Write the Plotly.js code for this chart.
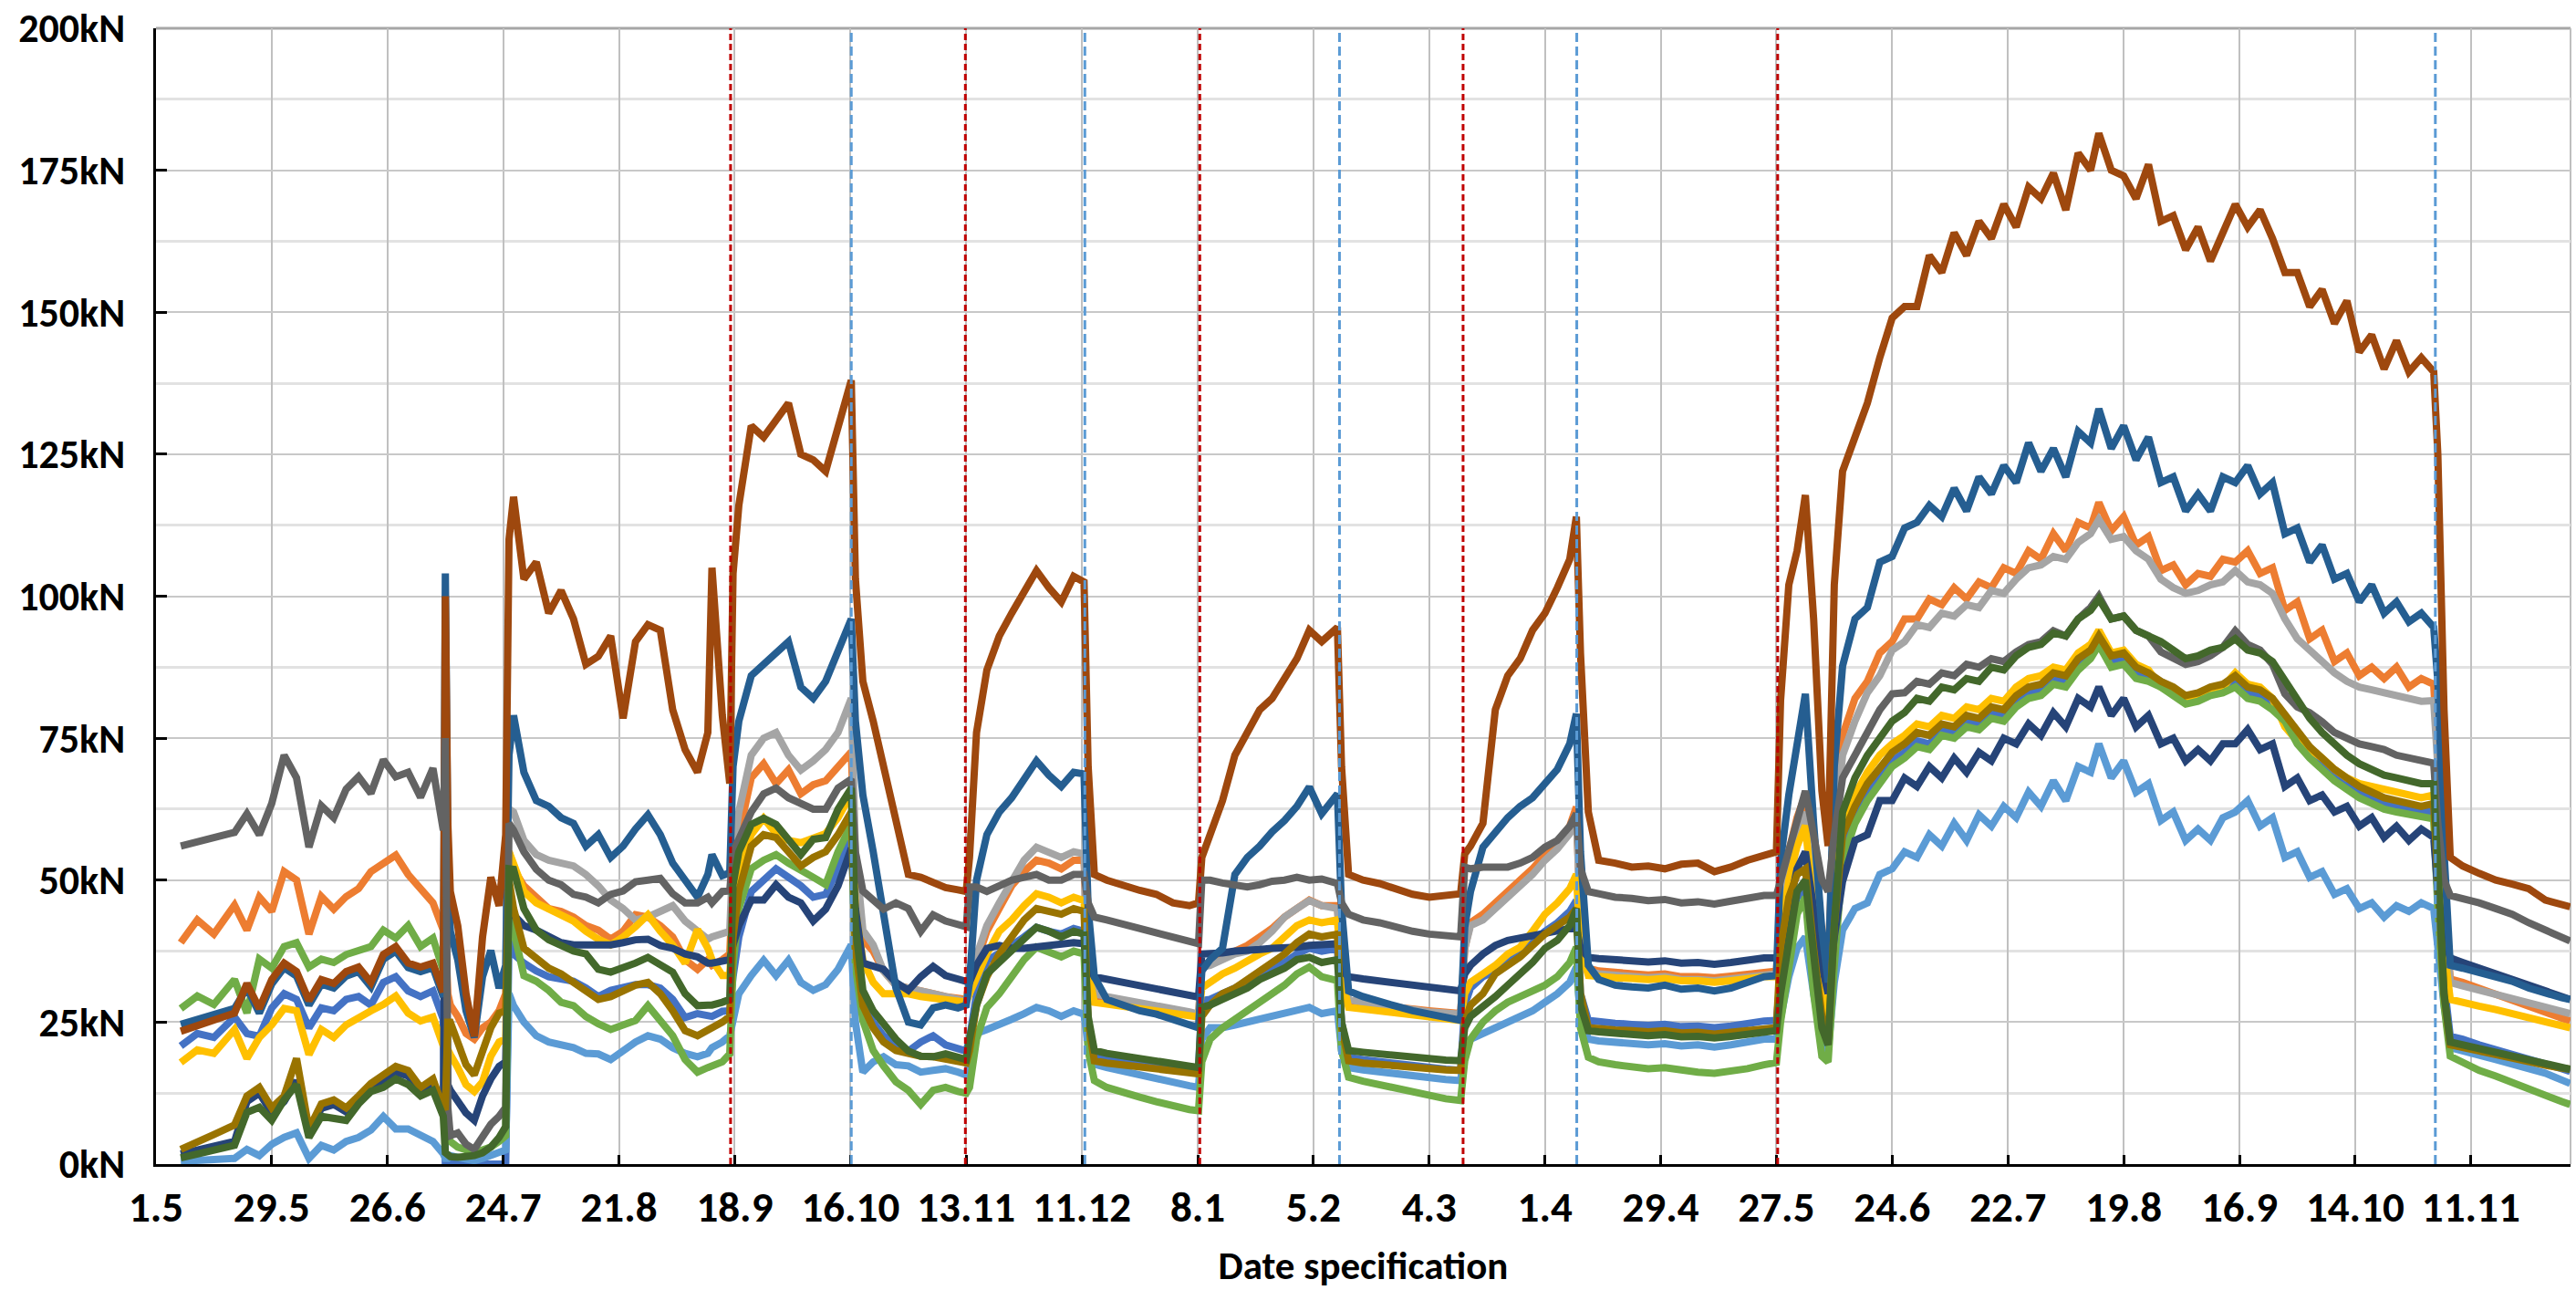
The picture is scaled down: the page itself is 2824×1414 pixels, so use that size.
<!DOCTYPE html>
<html>
<head>
<meta charset="utf-8">
<script src="https://cdn.plot.ly/plotly-3.0.1.min.js"></script>
<style>
html,body{margin:0;padding:0;background:#fff;}
#chart{width:2824px;height:1414px;}
</style>
</head>
<body>
<div id="chart"></div>
<script>
// Day offsets from 1 May 2019 (x values)
const days = [6,10,14,19,22,25,28,31,34,37,40,43,46,49,52,55,58,61,64,67,69.5,
70,70.6,
71.2,73,75,77,79,81,83,84.6,
85.4,86.5,89,92,95,98,101,104,107,110,113,116,119,122,125,128,131,133.5,134.5,137,138.8,
139.6,141,144,147,150,153,156,159,162,165,168.2,
169.2,171,173.5,176,179,182,185,188,191,194,196,
196.8,198.5,201,204,207,210,213,216,219,222,224.5,
225.5,227,230,234,238,242,246,250,252.2,
253,255,258,261,264,267,270,273,276,279,282,285.8,
286.8,288.5,292,296,300,304,308,312,315.6,
316.6,318,321,324,327,330,333,336,339,342,343.6,
344.6,346.5,349,353,357,361,365,369,373,377,381,385,389,392,
393,395,397,399,401,403,404.5,406,408,411,414,417,420,423,426,429,432,435,438,441,444,447,450,453,456,459,462,465,468,470,473,476,479,482,485,488,491,494,497,500,503,506,509,512,515,518,521,524,527,530,533,536,539,542,545,548,551,
552,553.5,555,558,562,566,570,574,578,582,584];

// Tick positions (days) and labels
const tickDays = [0,28,56,84,112,140,168,196,224,252,280,308,336,364,392,420,448,476,504,532,560];
const tickLabels = ["1.5","29.5","26.6","24.7","21.8","18.9","16.10","13.11","11.12","8.1","5.2","4.3","1.4","29.4","27.5","24.6","22.7","19.8","16.9","14.10","11.11"];

// Event markers (days)
const redEvents = [139, 195.8, 252.5, 316.2, 392.3];
const blueEvents = [168.2, 224.7, 286.3, 343.7, 551.4];

const sBlue = [20.8,23,22.3,25.9,23,22.5,27.5,30,29,24,27.5,27,29,29.5,28,32,33,30.5,29.5,30.5,25.5,
0,0,
0,0,0,0,0,0,0,0,
40,37,35.4,34,33,32.5,32.2,31,29.5,30.6,31,31.6,31.6,31,29,25.8,26.5,26,26,26.9,27,
33,40,48,50,52,50.5,49,47,47.5,52,58,
38,27.9,25,22.6,21,19.9,21.5,22.6,21,20.3,19.9,
22,30,35.8,37,38.5,40,41.7,41,40.5,41.5,41,
24,19.4,19,18.5,18.2,17.8,17.4,17.1,17,
28.8,29,30,31,32,33.5,34.5,35.5,37,38,37.5,38,
25,18.8,18.4,18,17.6,17.3,17,16.7,16.5,
28,31,33,34,35.5,37,39,41,42.5,44.5,46.4,
30,25.3,25,24.8,24.6,24.4,24.6,24.2,24.3,24,24.3,24.8,25.2,25.3,
33,42,47,48,35,24,22,38,56,61,65,68,71,72.5,74.5,74,76.5,76,78,77.5,79.5,79,81.5,83,83.5,85.5,85,88,90,92,88.5,89,86.5,86,85,83.5,82,82.5,83.5,84,85,83,82.5,81,78.5,75,72.5,70.5,68.5,67,65.5,64.5,63.5,63,62.5,62,62,
48,32,22.5,22,21,20.2,19.5,18.6,17.8,16.8,16.3];

const sOrange = [39,43,40.5,45.6,41.2,47,44.5,51.5,50,40.5,47.1,44.9,47.1,48.5,51.5,52.9,54.4,51,48.5,46,41.2,
41,30,
28,26,23,22,24,25,27,30,
55,52,49,47,45,44.5,43.5,42,41.2,39.6,41,43.9,43.5,42,40,36,34.3,36,35,36,37,
50,58,68,70.5,67,69.4,65.2,66.8,67.5,70,72.6,
52,39.6,37.5,34,31.5,31.1,30.5,30,29.5,29.2,29,
32,36,41,45,49,51.5,53.5,53,52,53.5,53.5,
37,29.5,29,28.5,28,27.5,27,26.5,26,
35,35.5,36.5,37.5,38.5,40,41.5,43.5,45,46.5,45.5,45.5,
34,28.5,28.2,28,27.7,27.3,27,26.8,26.5,
38,42.5,44,46,48,50,52,54.5,56.5,59.5,62.9,
42,34.5,34,33.7,33.5,33.3,33.5,33,33,32.8,33.1,33.5,34,34,
45,55,61,65,53,40,36,61,75.5,82,85,90,92,96,96,99.5,98.5,101.5,99.5,102.5,101.5,105,104,108,106.5,111,108,113,112,116.5,111.5,114,109,110.5,104.5,105.5,102,104,103.5,106.5,106,108,104,105,97.5,99,92.5,94,88.5,90,86,87.5,85.5,87.5,84,85.5,84.5,
72,47,32.6,32,31,30,29,28,27,25.8,25.2];

const sLightGray = [null,null,null,null,null,null,null,null,null,null,null,null,null,null,null,null,null,null,null,null,null,
null,null,
null,null,null,null,null,null,null,null,
62.5,62,57,54.5,53.5,52.9,52.5,51,49,46.5,45,43,43.5,44.5,45.5,42.8,41,39.6,40,40.5,41,
55,62,72,75,76,72,69.4,71,73,76,82,
55,41.2,38.6,34,31.5,31,30.6,30,29.5,29,28.5,
33,37,42,46,50,53.5,55.8,55,54,55,54.6,
38,30,29.5,29,28.3,27.8,27.2,26.8,26.4,
34.7,35,36,37,37.5,39,41,43.5,45,46.4,45.5,45,
35,29,28.5,28,27.6,27.2,26.8,26.6,26.4,
38,42,43,45,47,49,51,53.5,55.5,58.2,61.7,
42,34,33.5,33.2,33,32.8,33,32.5,32.5,32.3,32.6,33,33.4,33.5,
42,52,58,62,50,38,35,58,72,78,83,86,90.5,92,95,94.5,97,96.5,98.5,98,101,100.5,103,105,105.5,107,106.5,109.5,111,113.5,110,110.5,108,106.5,103,101.5,100.5,101,102,102.5,104.5,102.5,102,100.5,96,92.5,90.5,88.5,86.5,85,84,83.5,83,82.5,82,81.5,81.6,
70,45,32,31.4,30.6,30,29.2,28.3,27.5,26.8,26.5];

const sGold = [17.9,20.1,19.5,23.7,18.6,22.3,24.5,27.4,27,19.3,23.7,22.3,24.5,25.9,27,28.1,29.6,26.6,25.2,25.9,20.8,
21,20,
19.3,17,14,12.8,14.5,19,21.5,22,
55,52.9,48,46,44.9,44,42.8,41,39.6,38.6,40,41.8,43.9,41,38.6,35.4,41.3,38,36,33.2,33.2,
45,52,58,60.9,58.2,57,56.6,57.5,58.2,61,65.2,
45,35.9,32,30,30,30,29.5,29.2,29,28.8,28.5,
30,33,37,41,43,45.5,47.6,47,46,47,46.4,
34,28.5,28.2,27.8,27.3,26.8,26.4,26,25.9,
31,32,33.5,34.5,35.8,37,38,40,42,43,42.5,43,
33,27.6,27.3,27,26.6,26.2,25.8,25.5,25.3,
30,32,33.5,35,37,38.2,41,44,46,48.5,51,
38,33.2,33,32.8,32.7,32.5,32.7,32.3,32.3,32,32.3,32.7,33,33,
40,50,56,59.6,45,30,24,48,60,65,69,72,74,75.5,77.5,77,79,78.5,80.5,80,82,81.5,84,85.5,86,87.5,87,90,91.5,94,90,90.5,88,87,84,83,81.5,82,83,84,86.5,84.5,84,82,77,74.5,73,71.5,69.5,68,67,66.5,66,65.5,65,64.5,65,
55,38,29,28.4,27.8,27.2,26.5,25.8,25,24.3,24];

const sLightBlue = [0.5,0.5,0.8,1,2.6,1.5,3.5,4.7,5.5,1,3.3,2.5,4,4.7,6,8.4,6.2,6.2,5,4,1.8,
1,1,
1.5,1.2,1,0.6,1,1.5,2,2.5,
30,27.9,25,22.6,21.5,21,20.5,19.5,19.4,18.4,20,21.5,22.6,22,20.5,19.5,18.9,19.5,20.5,21.5,22.6,
25,30,33.2,35.9,33.2,35.9,32,30.6,31.6,34.3,38.6,
25,16.2,18,18.9,17.5,17.3,16.2,16.5,16.8,16.2,15.7,
18,23,23.7,24.5,25.5,26.5,27.6,27,26,27,26.4,
21,17.6,17,16.3,15.6,15,14.4,13.8,13.5,
22,24,24,24.5,25,25.5,26,26.5,27,27.6,26.5,27,
20,17,16.6,16.2,15.8,15.4,15.1,14.9,14.7,
20,22,23,24,25,26,27,28.5,30,32,34.7,
26,22,21.7,21.5,21.3,21,21.2,20.8,21,20.6,21,21.5,22,22,
26,33,38,40,30,22,20,32,41.2,45,46,51,52,55,54,58,56,60,57,61.5,59.5,63,61,65.5,63,67.5,64,70,69,74,68,71,65.5,67,60.5,62,57,59,57,61,62,64,59.5,61,54,55,50.5,51.5,47.5,48.5,45,46,43.5,45.5,44.5,46,45,
38,28,20.5,20,19.2,18.4,17.6,16.8,16,14.8,14.2];

const sGreen = [27.4,29.6,28.1,32.5,26.6,36.1,34.5,38.3,39,34.7,36.1,35.5,36.9,37.6,38.3,41.2,39.8,42,38.3,39.8,33.9,
33,5,
4,3,2.5,2,2.5,3,4,5,
48,41.2,33.2,32.2,30.6,28.5,27.9,26,24.7,23.7,24.5,25.3,27.9,25,22.6,18.4,16.2,17,17.3,18,19.4,
35,45,52,53.5,54.5,53,51.9,50.5,49.2,55,59.8,
35,25.3,20,17.3,14.5,13,10.5,13,13.5,12.8,12.5,
13.5,22,27.6,30,33,36,38.2,37.5,36.5,37.5,37,
20,14.7,13.5,12.5,11.8,11,10.2,9.6,9.4,
18,22,24,25.5,27,28.5,30,31.5,33.5,34.7,33,32.3,
20,15.3,14.6,14,13.3,12.7,12,11.5,11.2,
18.2,22,25,27,28.5,29.5,30.5,31.5,33,35.5,38.2,
24,18.8,18,17.5,17.2,16.8,17,16.5,16.2,16,16.3,16.8,17.5,17.9,
25,35,44,47,30,19,18,35,53.4,60,64,67,70,71.5,73.5,73,75.5,75,77,76.5,78.5,78,80.5,82,82.5,84.5,84,87,89,91.4,87.5,88,85.5,85,84,82.5,81,81.5,82.5,83,84,82,81.5,80,78,74,71.5,69.5,67.5,66,64.5,63.5,62.5,62,61.5,61,60.8,
45,28,19,17.8,16.5,15.5,14.3,13.2,12,11,10.5];

const sNavy = [1.8,2.5,3.2,4,11,12.5,9,11,14.7,5.5,9.8,10.5,9.2,11.3,13.2,14.7,16.2,15.5,12.8,14,9,
60,14,
13,11,9,7.7,12,15,17.2,18,
48,43.9,42,41.2,40,39,38.6,38.5,38.6,38.6,39,39.5,39.6,38.5,38,37,36.5,35.4,35.4,35.9,36,
38.6,42,46.5,46.5,49.2,47,46,42.8,44.9,49,55.6,
45,35.4,34.8,34.3,32,30.6,33,34.8,33.2,32.7,32.2,
32,35,38,38.5,38,38,38.2,38.5,38.5,39,38.8,
35,33,32.6,32,31.5,31,30.5,29.8,29.4,
37,37,37.2,37.5,37.5,37.8,38,38,38.2,38.5,38.5,38.8,
34,33,32.6,32.2,31.8,31.4,31,30.7,30.5,
33.5,35,37,38.5,39.4,39.8,40,40.5,41,41.5,41.7,
38,36.4,36.2,36,35.8,35.6,35.8,35.4,35.5,35.2,35.5,36,36.3,36.3,
36,45,52,55,45,35,30,40,49.8,57,58,64,64,68,66.5,70,68,71.5,69,72.5,71,75,74,77.5,75.5,79.5,77,82,80.5,84,79,82,77,79,74,75,71,73,71,74,74,76.5,73,74,66.5,68,64,65,62,63,59.5,61,57.5,59.5,57,59,57.5,
48,40,36.3,35.5,34.5,33.5,32.5,31.5,30.5,29.5,29];

const sSteelBlue = [24.6,25.5,26.4,27.4,31,26.6,31.7,34.6,33.1,28,31.7,31,33.1,33.9,31.2,36.1,37.5,34.6,33.9,34.6,29.5,
104,55,
41,36,27,22.3,33,37.6,31,35,
72,79,69,64,63,61,60,56,58,54,56,59,61.5,58,53,50,47,51,54.5,50.8,51.3,
70,78,86,88,90,92,84,82,85,90,96,
78,65,55,44,31,25,24.5,27.5,28,27.5,28,
32,50,58,62,64.5,67.5,71,68.5,66.5,69,68.7,
45,33,29,28,27,26.4,25.5,24.5,24,
34,36,38,51,54,56,58.5,60.5,63,66.4,61.7,65.2,
45,30.5,29.5,28.5,27.8,27,26.3,25.8,25.3,
41.7,48,55.8,58.5,61,63,64.5,67,69.5,74,79.3,
55,35,32.5,31.5,31.2,31,31.5,30.8,31,30.5,31,32,33,33.2,
53.4,65,75,82.8,60,41.2,32,70,87.7,96,98,106,107,112,113,116,114,119,115,121,118,123,120,127,122,126,121,129,127,133,126,130,124,128,120,121,115,118,115,121,120,123,118,120,111,112,106,109,103,104,99,102,97,99,95.5,97,94.5,
85,55,35,34.5,33.8,33,32.2,31,30,29.3,29];

const sBrown = [23.4,24.3,25.3,26.6,31.8,27.4,32.5,35.4,33.9,28.8,32.5,31.8,33.9,34.7,32,36.9,38.3,35.4,34.7,35.4,30.3,
100,60,
48,42,30,22.5,40,50.5,45.5,58,
110,117.5,103,106,97,101,96,88,89.4,93,78.5,92,95,94,80,73,69,76,105,79,67,
104,116,130,128,131,134,125,124,122,130,138,
103,85,78,70,60,51,50.5,49.5,48.7,48.3,48,
54,76,87,93,97,101,104.5,101.5,99,103.5,102.5,
70,51,50,49,48.2,47.5,46,45.5,46,
54,58,64,72,76,80,82,85.5,89,94,92,94.5,
70,51,50,49.4,48.5,47.5,47,47.3,47.6,
54.6,56,60,80,86,89,94,97,101.5,106.5,114,
90,62,53.5,53,52.3,52.5,52,52.8,53,51.5,52.3,53.5,54.5,55,
81.6,102,108,117.8,96,65.7,56,102,122,128,134,142,149,151,151,160,157,164,160,166,163,169,165,172,170,174.5,168,178,175,181.5,175,174,170,176,166,167,161,165,159,164,169,165,168,163,157,157,151,154,148,152,143,146,140,145,139.5,142,139.5,
125,80,54,52.5,51.2,50,49.3,48.5,46.5,45.5,45.3];

const sDarkGray = [56,56.7,57.5,58.4,61.7,58,63.5,72,68,55.8,63.1,61,66,68.2,65.3,71.2,68.2,69,64.6,69.7,58.8,
75,10,
5,5.5,3.5,2.6,5,7,8.4,10,
60,58.8,55,51.9,50,49.2,47.5,47,46,47.5,48.1,49.7,50,50.3,47.6,46,46,47,46,48,48.1,
55,57.2,62,65.2,66.2,64.5,63.6,62.5,62.5,66.2,67.8,
55,48.1,46.5,44.9,46,45,41,43.9,42.8,42.2,41.8,
48.8,48.8,48,49,50,50.5,51,50,50,51,51,
46,43.5,43,42.2,41.7,40.8,40,39.2,38.8,
50,50,49.5,49,48.8,49.2,49.8,50,50.5,50,50.2,49.4,
46,44,43,42.5,41.7,41,40.5,40.2,40,
52.3,52,52.3,52.3,52.3,53,54,55.8,57,59.5,61.7,
52,48,47.6,47,46.8,46.4,46.6,46,46.2,45.8,46.3,46.8,47.3,47.3,
50,55,60,65.7,58,50,48,58,68,72,76,80,82.8,83,85,84.5,86.5,86,88,87.5,89,88.5,90.2,91.5,92,93.9,93,96,98,100,96,96.5,94,93,90.2,89,88,88.5,89.5,91,93.9,91.5,90.5,88,82.8,80.5,79.5,77.9,76,75,74,73.5,73,72,71.5,71,70.6,
60,50,47.3,46.8,46,45,44,42.5,41.2,39.8,39.3];

const sDarkGold = [2.6,3.8,5.2,6.9,12,13.5,9.9,12,18.6,6.2,10.6,11.3,9.9,12,14.2,15.7,17.2,16.5,13.5,15,9.9,
10,25,
25,21,17.5,15.7,20,24,26.6,27,
50,45,38,36.4,34.5,33.5,32,30.5,29,29.5,30.5,31.5,32,30,27,23.5,22.6,23.5,24,25,26,
40,48,56,58,57.5,55,52.5,54,55,58,62,
38,27.9,24,21.5,20,19.4,19,18.9,18.5,18,17.8,
20,28,33,37,40,43,45,44.5,44,45,44.5,
25,18.2,17.8,17.4,17,16.7,16.4,16.1,15.9,
26,28,30,31,32.5,34,35.5,37,39,40.5,40,40.5,
24,18.2,17.8,17.5,17.2,17,16.8,16.6,16.5,
25,28,30,33.5,35,36.5,38.5,40.5,42,43.5,45,
30,24,23.8,23.6,23.5,23.3,23.5,23.1,23.2,22.9,23.2,23.6,24,24,
38,47,51,52,38,26,22,42,58,63,67,70,72.5,74,76,75.5,77.5,77,79,78.5,80.5,80,82.5,84,84.5,86.5,86,89,90.5,93,89.5,90,87.5,86.5,85,84,82.5,83,84,84.5,86,84,83.5,82,79,76,73.5,71.5,69.5,68,66.5,65.5,64.5,64,63.5,63,63.5,
48,30,21,20.5,19.8,19.2,18.6,18,17.4,16.9,16.7];

const sDarkGreen = [1.1,1.8,2.5,3.3,9.1,10,7.7,11.3,14,4.7,8.4,8,7.7,10.6,12.8,13.5,15,14,12,13,8.4,
2,1.5,
1.3,1.2,1.3,1.5,2,3,4.7,6.6,
52,51.9,45,41.2,39.5,38.6,37.5,37,34.3,33.8,34.5,35.4,36.4,35,33.8,30,27.9,28,28,28.5,29,
49.2,55,59.8,60.9,59.8,57,54.5,57.2,57.5,62.5,66.2,
42,30.6,27,24.7,22,19.9,19,18.9,19.4,18.8,18.4,
22,28,33.5,35.5,37.5,39.5,41.7,41,40,41,40.5,
26,20,19.5,19,18.5,18,17.6,17.2,17,
27.6,28,29,30,31,32.5,33.5,34.5,36,36.4,35.5,36,
25,20,19.7,19.4,19,18.8,18.5,18.3,18.2,
24,26,27.6,29.5,31.5,33.5,35.5,38,39.4,42,45,
28,23.5,23.3,23,22.8,22.6,22.8,22.4,22.5,22.2,22.5,22.9,23.2,23.5,
30,40,48,50,36,24,21,42,62,68,72,75,78,79.5,82,81.5,84,83.5,85.5,85,87.5,87,89.5,91,91.5,93.5,93,96,97.5,99.5,96,96.5,94,93,92,90.5,89,89.5,90.5,91,92.5,90.5,90,88.5,85,81.5,78.5,76,74,72,70.5,69.5,68.5,68,67.5,67,67,
50,30,21.5,21,20.3,19.7,19,18.3,17.6,17,16.7];

const seriesList = [
  {name:"S1", y:sBlue, color:"#4472C4"},
  {name:"S2", y:sOrange, color:"#ED7D31"},
  {name:"S3", y:sLightGray, color:"#A5A5A5"},
  {name:"S4", y:sGold, color:"#FFC000"},
  {name:"S5", y:sLightBlue, color:"#5B9BD5"},
  {name:"S6", y:sGreen, color:"#70AD47"},
  {name:"S7", y:sNavy, color:"#264478"},
  {name:"S11", y:sSteelBlue, color:"#255E91"},
  {name:"S8", y:sBrown, color:"#9E480E"},
  {name:"S9", y:sDarkGray, color:"#636363"},
  {name:"S10", y:sDarkGold, color:"#997300"},
  {name:"S12", y:sDarkGreen, color:"#43682B"}
];

seriesList.forEach(s => {
  if (s.y.length !== days.length) {
    throw new Error("Length mismatch for " + s.name + ": " + s.y.length + " vs " + days.length);
  }
});

const traces = seriesList.map(s => ({
  type: "scatter",
  mode: "lines",
  x: days,
  y: s.y,
  name: s.name,
  line: {color: s.color, width: 8},
  connectgaps: false,
  hoverinfo: "skip"
}));

const shapes = [];
redEvents.forEach(d => shapes.push({
  type: "line", xref: "x", yref: "y", x0: d, x1: d, y0: 0, y1: 200,
  line: {color: "#C00000", width: 3, dash: "7px,4px"}, layer: "above"
}));
blueEvents.forEach(d => shapes.push({
  type: "line", xref: "x", yref: "y", x0: d, x1: d, y0: 0, y1: 200,
  line: {color: "#5B9BD5", width: 3, dash: "10px,5px"}, layer: "above"
}));
// top and right frame lines (gray)
shapes.push({type:"line", xref:"paper", yref:"paper", x0:0, x1:1, y0:1, y1:1, line:{color:"#a6a6a6", width:3}, layer:"below"});
shapes.push({type:"line", xref:"paper", yref:"paper", x0:1, x1:1, y0:0, y1:1, line:{color:"#bfbfbf", width:2}, layer:"below"});

const FONT = "Carlito, Calibri, Lato, 'Open Sans', sans-serif";

const layout = {
  width: 2824,
  height: 1414,
  margin: {l: 171, r: 6, t: 31, b: 138},
  paper_bgcolor: "#ffffff",
  plot_bgcolor: "#ffffff",
  showlegend: false,
  font: {family: FONT, color: "#000000"},
  xaxis: {
    range: [0, 584.1],
    tickmode: "array",
    tickvals: tickDays,
    ticktext: tickLabels,
    showgrid: true,
    gridcolor: "#c0c0c0",
    gridwidth: 2,
    zeroline: false,
    showline: true,
    linecolor: "#000000",
    linewidth: 3,
    ticks: "inside",
    ticklen: 10,
    tickwidth: 3,
    tickcolor: "#000000",
    ticklabelstandoff: 4,
    ticklabeloverflow: "allow",
    tickfont: {family: FONT, size: 47, color: "#000000", weight: "bold"},
    title: {text: "Date specification", font: {family: FONT, size: 43, color: "#000000", weight: "bold"}, standoff: 22}
  },
  yaxis: {
    range: [0, 200],
    tick0: 0,
    dtick: 25,
    ticksuffix: "kN",
    showgrid: true,
    gridcolor: "#c8c8c8",
    gridwidth: 2,
    minor: {dtick: 12.5, tick0: 0, showgrid: true, gridcolor: "#e2e2e2", gridwidth: 3, ticks: ""},
    zeroline: false,
    showline: true,
    linecolor: "#000000",
    linewidth: 3,
    ticks: "inside",
    ticklen: 12,
    tickwidth: 3,
    tickcolor: "#000000",
    ticklabelstandoff: 22,
    ticklabeloverflow: "allow",
    tickfont: {family: FONT, size: 44, color: "#000000", weight: "bold"}
  },
  shapes: shapes
};

Plotly.newPlot("chart", traces, layout, {staticPlot: true, displayModeBar: false});
</script>
</body>
</html>
